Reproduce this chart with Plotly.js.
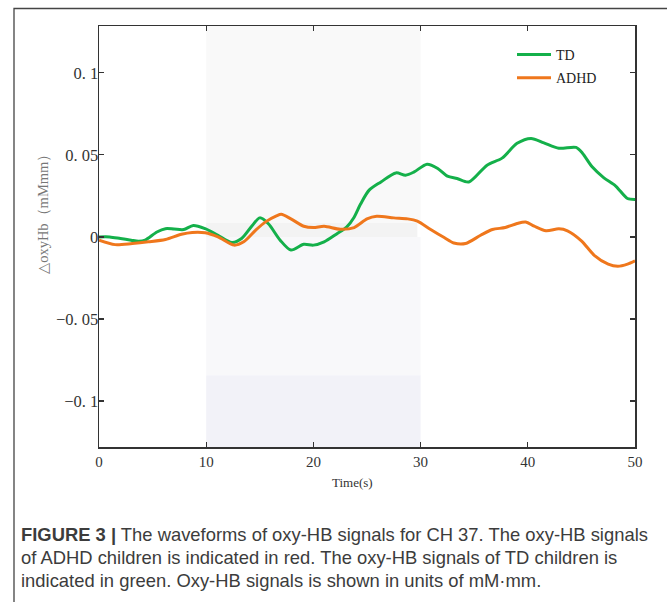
<!DOCTYPE html>
<html>
<head>
<meta charset="utf-8">
<script src="https://cdn.plot.ly/plotly-3.0.1.min.js"></script>
<style>
  html, body { margin: 0; padding: 0; background: #fff; }
  #chart { width: 667px; height: 602px; }
</style>
</head>
<body>
<div id="chart"></div>
<script>
// ---- data ----
const tdTime = [0, 1, 2, 3, 3.7, 4.3, 5.4, 6.2, 7.0, 7.9, 8.8, 9.9, 11.1, 12.4, 13.3, 14.3, 15.0, 15.8, 16.9, 17.9, 19.1, 20.0, 21.0, 22.2, 23.1, 23.8, 24.4, 25.2, 26.3, 27.7, 28.6, 29.4, 30.6, 31.6, 32.5, 33.4, 34.5, 36.2, 37.6, 39.0, 40.3, 41.5, 42.9, 44.5, 45.1, 46.0, 47.1, 48.2, 49.3, 50];
const tdValues = [0.000, 0.000, -0.001, -0.002, -0.0026, -0.002, 0.003, 0.005, 0.0048, 0.0045, 0.007, 0.005, 0.001, -0.0034, -0.001, 0.007, 0.0116, 0.008, -0.002, -0.008, -0.0045, -0.005, -0.003, 0.002, 0.006, 0.012, 0.020, 0.0285, 0.0335, 0.039, 0.0376, 0.0396, 0.0443, 0.0417, 0.037, 0.0356, 0.0335, 0.0437, 0.048, 0.057, 0.060, 0.0573, 0.054, 0.0545, 0.051, 0.0427, 0.036, 0.031, 0.0234, 0.0228];

const adhdTime = [0, 1.5, 3.1, 4.6, 6.2, 7.7, 8.7, 9.9, 11.1, 12.6, 13.5, 14.6, 15.5, 16.6, 17.0, 17.9, 19.1, 20.0, 21.0, 22.5, 23.8, 25.0, 25.9, 27.5, 28.8, 29.7, 30.9, 32.2, 33.1, 34.2, 35.6, 36.7, 37.9, 39.0, 39.8, 40.6, 41.7, 42.9, 43.7, 45.0, 46.2, 47.5, 48.4, 49.3, 50];
const adhdValues = [-0.002, -0.0047, -0.004, -0.003, -0.0016, 0.0016, 0.0027, 0.0025, 0.000, -0.005, -0.003, 0.004, 0.009, 0.013, 0.0138, 0.011, 0.0065, 0.0057, 0.0065, 0.0047, 0.0057, 0.011, 0.0126, 0.0116, 0.011, 0.0096, 0.0047, -0.0004, -0.0037, -0.004, 0.001, 0.0045, 0.0057, 0.0082, 0.0091, 0.0065, 0.0037, 0.0049, 0.0037, -0.0024, -0.0112, -0.0166, -0.0179, -0.0166, -0.0146];

const seriesNames = ["TD", "ADHD"];
const taskStart = 10, taskEnd = 30;

const xTickVals = [0, 10, 20, 30, 40, 50];
const xTickText = ["0", "10", "20", "30", "40", "50"];
const yTickVals = [-0.1, -0.05, 0, 0.05, 0.1];
const yTickText = ["\u22120. 1", "\u22120. 05", "0", "0. 05", "0. 1"];

const xTitle = "Time(s)";
const yTitle = "\u25B3oxyHb\uFF08mMmm\uFF09";
const captionLines = [
  "<b>FIGURE 3 |</b> The waveforms of oxy-HB signals for CH 37. The oxy-HB signals",
  "of ADHD children is indicated in red. The oxy-HB signals of TD children is",
  "indicated in green. Oxy-HB signals is shown in units of mM\u00B7mm."
];

// ---- layout geometry (pixels) ----
const W = 667, H = 602;
const M = {l: 99, r: 32, t: 26, b: 155};
const PW = W - M.l - M.r, PH = H - M.t - M.b;
const px2x = p => (p - M.l) / PW;
const px2y = p => (H - M.b - p) / PH;

const yRange = [-0.128, 0.1285];

const serif = "'Liberation Serif', 'DejaVu Serif', serif";
const sans = "'Liberation Sans', Arial, sans-serif";

const traces = [
  {x: tdTime, y: tdValues, name: seriesNames[0], type: 'scatter', mode: 'lines',
   line: {color: '#14b04a', width: 3, shape: 'spline', smoothing: 0.8}, legendgroup: 'a'},
  {x: adhdTime, y: adhdValues, name: seriesNames[1], type: 'scatter', mode: 'lines',
   line: {color: '#ef771c', width: 3, shape: 'spline', smoothing: 0.8}, legendgroup: 'b'}
];

const shapes = [
  // stimulus period shading
  {type: 'rect', layer: 'below', xref: 'x', yref: 'y', x0: taskStart, x1: taskEnd, y0: 0.0085, y1: yRange[1], fillcolor: '#f9f9f9', line: {width: 0}},
  {type: 'rect', layer: 'below', xref: 'x', yref: 'y', x0: taskStart, x1: taskEnd - 0.3, y0: 0, y1: 0.0085, fillcolor: '#f3f3f3', line: {width: 0}},
  {type: 'rect', layer: 'below', xref: 'x', yref: 'y', x0: taskStart, x1: taskEnd, y0: -0.0843, y1: 0, fillcolor: '#f8f8fa', line: {width: 0}},
  {type: 'rect', layer: 'below', xref: 'x', yref: 'y', x0: taskStart, x1: taskEnd, y0: yRange[0], y1: -0.0843, fillcolor: '#f2f2f8', line: {width: 0}},
  // outer figure frame
  {type: 'rect', xref: 'paper', yref: 'paper', x0: px2x(14), x1: px2x(700), y0: px2y(640), y1: px2y(8.5), line: {color: '#444', width: 1.3}, fillcolor: 'rgba(0,0,0,0)'}
];

const annotations = [
  {xref: 'paper', yref: 'paper', x: px2x(352), y: px2y(482), text: xTitle, showarrow: false,
   xanchor: 'center', yanchor: 'middle', font: {family: serif, size: 13, color: '#333'}},
  {xref: 'paper', yref: 'paper', x: px2x(43), y: px2y(211), text: yTitle, showarrow: false, textangle: -90,
   xanchor: 'center', yanchor: 'middle', font: {family: serif, size: 14.5, color: '#777'}}
];
const capY = [534, 557, 580];
captionLines.forEach((txt, i) => {
  annotations.push({xref: 'paper', yref: 'paper', x: px2x(19), y: px2y(capY[i]), text: txt, showarrow: false,
    xanchor: 'left', yanchor: 'middle', align: 'left', font: {family: sans, size: 18.4, color: '#3c3c3c'}});
});

const axisCommon = {
  showline: true, linecolor: '#333', linewidth: 1.5, mirror: 'ticks',
  ticks: 'inside', ticklen: 5, tickwidth: 1.2, tickcolor: '#333',
  showgrid: false, zeroline: false, tickfont: {family: serif, size: 15, color: '#333'}
};

const layout = {
  width: W, height: H,
  margin: M,
  paper_bgcolor: '#fff', plot_bgcolor: '#fff',
  showlegend: true,
  legend: {x: px2x(512), y: px2y(39), xanchor: 'left', yanchor: 'top', bgcolor: 'rgba(0,0,0,0)',
           font: {family: serif, size: 14, color: '#222'}, traceorder: 'grouped', tracegroupgap: 2, itemwidth: 34},
  xaxis: Object.assign({}, axisCommon, {range: [0, 50], tickvals: xTickVals, ticktext: xTickText}),
  yaxis: Object.assign({}, axisCommon, {range: yRange, tickvals: yTickVals, ticktext: yTickText,
           ticklabelstandoff: -4, tickfont: {family: serif, size: 16.5, color: '#333'}}),
  shapes: shapes,
  annotations: annotations
};

Plotly.newPlot('chart', traces, layout, {staticPlot: true, displayModeBar: false});
</script>
</body>
</html>
